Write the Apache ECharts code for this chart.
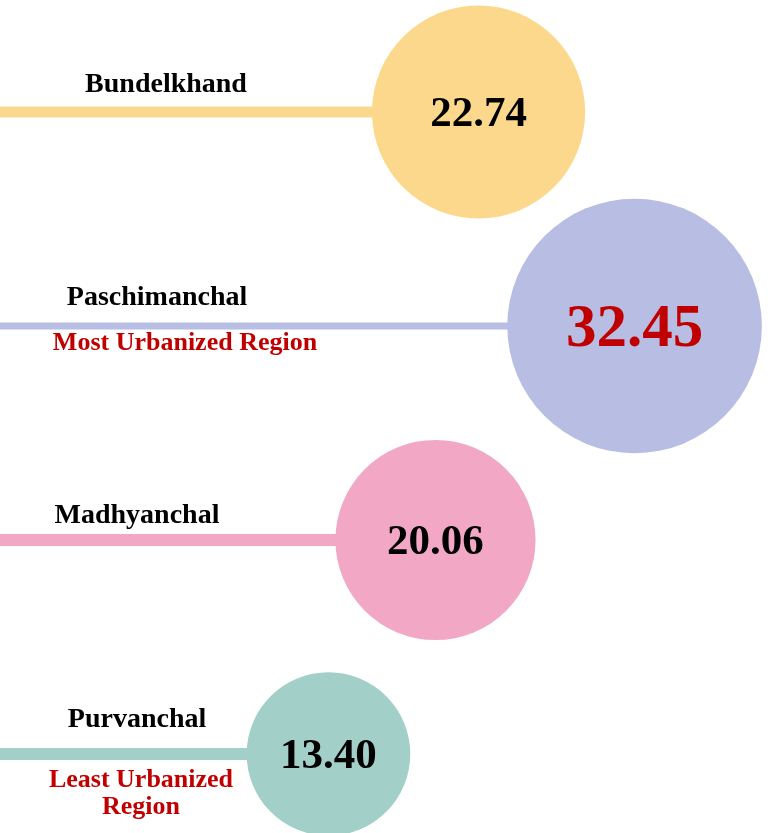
<!DOCTYPE html>
<html>
<head>
<meta charset="utf-8">
<script src="https://cdn.jsdelivr.net/npm/echarts@6/dist/echarts.min.js"></script>
<style>
  html, body { margin: 0; padding: 0; background: #fff; }
  #chart { width: 771px; height: 833px; }
</style>
</head>
<body>
<div id="chart"></div>
<script>
// urbanization (%) by region
var regions = ['Bundelkhand', 'Paschimanchal', 'Madhyanchal', 'Purvanchal'];
var urbanPct = [22.74, 32.45, 20.06, 13.40];
var notes = ['', 'Most Urbanized Region', '', 'Least Urbanized\nRegion'];

// styling only
var colors = ['#FCD88C', '#B8BDE3', '#F2A8C5', '#A2CFC7'];
var lineWidths = [11, 7, 12, 12];
var nameX = [166, 157, 137, 137];
var nameDy = [-27, -28, -24, -34];
var noteX = [0, 185, 0, 141];
var noteDy = [0, 17, 0, 40];

var X_MIN = -7.04, X_MAX = 40.94;
var FONT = '"Liberation Serif", "Times New Roman", serif';
var maxIdx = urbanPct.indexOf(Math.max.apply(null, urbanPct));

var chart = echarts.init(document.getElementById('chart'));

var lineData = urbanPct.map(function (v, i) { return [v, i]; });

var dotData = urbanPct.map(function (v, i) {
    var item = {
        value: [v, regions[i]],
        itemStyle: { color: colors[i], opacity: 1 }
    };
    if (i === maxIdx) {
        item.label = { color: '#C00000', fontSize: 61, offset: [0, 4] };
    }
    return item;
});

var option = {
    animation: false,
    grid: { left: 0, right: 0, top: 112, bottom: 79 },
    xAxis: {
        type: 'value',
        min: X_MIN,
        max: X_MAX,
        show: false
    },
    yAxis: {
        type: 'category',
        data: regions,
        inverse: true,
        boundaryGap: false,
        show: false
    },
    series: [
        {
            type: 'custom',
            z: 1,
            data: lineData,
            renderItem: function (params, api) {
                var i = params.dataIndex;
                var cat = api.value(1);
                var start = api.coord([X_MIN, cat]);
                var end = api.coord([api.value(0), cat]);
                var children = [
                    {
                        type: 'line',
                        shape: { x1: start[0], y1: start[1], x2: end[0], y2: end[1] },
                        style: { stroke: colors[i], lineWidth: lineWidths[i] }
                    },
                    {
                        type: 'text',
                        style: {
                            text: regions[i],
                            x: nameX[i],
                            y: start[1] + nameDy[i],
                            align: 'center',
                            verticalAlign: 'middle',
                            font: 'bold 28px ' + FONT,
                            fill: '#000'
                        }
                    }
                ];
                if (notes[i]) {
                    children.push({
                        type: 'text',
                        style: {
                            text: notes[i],
                            x: noteX[i],
                            y: start[1] + noteDy[i],
                            align: 'center',
                            verticalAlign: 'middle',
                            lineHeight: 27,
                            font: 'bold 26px ' + FONT,
                            fill: '#C00000'
                        }
                    });
                }
                return { type: 'group', children: children };
            }
        },
        {
            type: 'scatter',
            z: 2,
            data: dotData,
            symbol: 'circle',
            symbolSize: function (val) {
                return 44.7 * Math.sqrt(val[0]);
            },
            label: {
                show: true,
                position: 'inside',
                offset: [0, 3],
                formatter: function (p) { return p.value[0].toFixed(2); },
                fontFamily: FONT,
                fontWeight: 'bold',
                fontSize: 43,
                color: '#000'
            },
            emphasis: { disabled: true }
        }
    ]
};

chart.setOption(option);
</script>
</body>
</html>
